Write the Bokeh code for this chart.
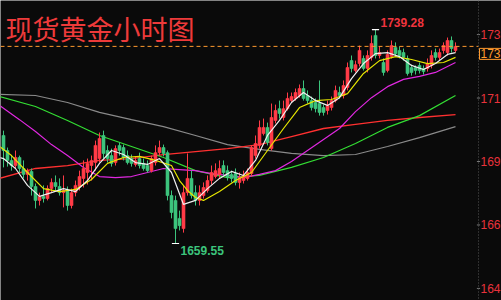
from bokeh.plotting import figure
from bokeh.models import Range1d, Span, Label
from bokeh.embed import file_html
from bokeh.resources import INLINE

# ---------------- data ----------------
title_text = "现货黄金小时图"

opens = [1699.8,1694.2,1690.5,1688.6,1691.6,1687.5,1685.3,1686.4,1680.8,1675.6,
1677.1,1676.3,1680.0,1682.3,1680.8,1678.5,1679.3,1673.7,1678.5,1680.8,
1683.8,1686.0,1688.6,1689.7,1691.2,1699.8,1694.2,1692.3,1689.7,1696.1,
1695.3,1692.3,1691.2,1689.0,1691.2,1689.4,1688.6,1686.7,1689.7,1693.4,
1695.3,1693.4,1677.4,1675.6,1668.9,1665.1,1678.5,1683.8,1678.5,1675.6,
1677.4,1679.3,1683.0,1684.5,1685.3,1688.6,1686.7,1685.3,1685.6,1682.3,
1683.0,1683.8,1685.6,1692.3,1696.1,1700.5,1702.8,1694.9,1705.4,1709.8,
1706.5,1709.8,1712.8,1713.6,1714.7,1717.3,1714.7,1712.8,1712.1,1711.7,
1710.2,1709.1,1710.2,1712.8,1715.8,1714.7,1717.7,1727.7,1724.0,1726.6,
1728.5,1724.8,1728.9,1737.1,1729.6,1727.0,1724.0,1729.2,1732.6,1731.5,
1730.7,1728.5,1725.1,1725.1,1725.9,1724.8,1724.8,1725.9,1730.7,1728.9,
1731.5,1730.7,1735.2,1731.5]

highs = [1701.6,1695.3,1692.3,1694.2,1692.3,1690.5,1687.5,1687.5,1681.9,1678.5,
1681.2,1681.2,1683.8,1684.9,1683.8,1684.9,1680.8,1680.0,1683.0,1686.7,
1690.5,1691.2,1692.3,1697.9,1700.9,1701.6,1696.1,1694.9,1696.1,1697.2,
1696.4,1694.2,1692.7,1692.0,1693.4,1691.2,1690.5,1692.3,1696.1,1697.9,
1696.4,1694.2,1679.3,1677.4,1671.8,1681.2,1693.1,1686.7,1681.2,1681.2,
1682.3,1684.9,1688.6,1689.4,1690.5,1690.5,1688.6,1686.7,1687.5,1686.0,
1686.7,1687.5,1696.1,1699.8,1705.4,1706.1,1704.6,1711.7,1711.3,1712.8,
1712.8,1715.8,1715.8,1717.3,1718.8,1720.3,1716.6,1714.3,1713.6,1720.3,
1711.3,1712.8,1714.3,1718.4,1718.0,1720.3,1727.0,1729.6,1727.7,1733.3,
1729.6,1731.5,1737.1,1739.28,1733.0,1728.5,1731.5,1735.2,1734.5,1733.0,
1732.2,1729.6,1726.2,1725.9,1727.0,1725.9,1728.5,1731.5,1732.2,1732.2,
1734.5,1736.3,1736.7,1734.5]

lows = [1687.9,1688.2,1686.7,1687.5,1686.0,1683.8,1683.0,1677.4,1672.6,1673.7,
1674.8,1675.6,1678.5,1679.3,1677.4,1673.0,1671.8,1672.6,1677.1,1679.3,
1680.4,1681.5,1683.0,1686.7,1689.7,1691.2,1689.7,1688.2,1688.6,1692.3,
1690.5,1689.0,1688.2,1688.2,1687.5,1686.7,1686.0,1686.0,1688.6,1692.3,
1692.0,1675.6,1668.9,1659.55,1664.4,1663.6,1677.4,1676.3,1673.7,1673.7,
1676.3,1678.5,1681.5,1683.8,1683.8,1684.9,1683.0,1682.3,1681.2,1680.0,
1681.9,1683.0,1684.5,1691.2,1694.9,1699.8,1696.1,1694.2,1704.3,1706.1,
1705.4,1709.1,1712.1,1712.8,1713.9,1712.8,1711.7,1709.1,1708.4,1707.2,
1707.2,1707.6,1709.1,1712.1,1713.6,1713.6,1716.6,1723.3,1723.3,1725.5,
1724.0,1723.3,1727.7,1728.5,1728.5,1722.1,1723.3,1728.5,1729.2,1728.5,
1727.7,1722.1,1722.1,1722.5,1722.9,1722.5,1723.6,1724.8,1727.7,1727.7,
1730.3,1729.6,1730.7,1730.7]

closes = [1694.2,1690.5,1688.6,1691.6,1687.5,1685.3,1686.4,1680.8,1675.6,1677.1,
1676.3,1680.0,1682.3,1680.8,1678.5,1679.3,1673.7,1678.5,1681.2,1684.5,
1687.5,1689.4,1690.5,1696.1,1698.7,1693.1,1691.2,1689.4,1694.9,1694.2,
1691.6,1689.7,1689.4,1690.5,1688.6,1687.5,1686.7,1691.2,1693.4,1695.3,
1693.1,1677.4,1671.1,1665.1,1666.2,1678.5,1683.8,1677.4,1675.6,1678.5,
1680.4,1683.0,1686.0,1686.7,1687.5,1686.0,1684.1,1683.8,1682.3,1684.1,
1684.9,1686.0,1695.3,1696.8,1702.8,1702.8,1697.2,1706.5,1709.1,1708.0,
1709.8,1713.6,1714.3,1715.8,1717.3,1713.6,1712.8,1710.2,1709.8,1708.4,
1708.4,1711.0,1712.8,1716.6,1714.7,1718.4,1725.1,1724.8,1726.2,1731.5,
1724.8,1729.6,1734.1,1729.6,1730.7,1723.3,1730.0,1733.3,1730.3,1729.6,
1728.9,1722.9,1723.3,1724.0,1724.0,1723.6,1726.6,1729.6,1728.9,1730.7,
1733.3,1735.2,1732.2,1733.0]

bars = list(range(len(closes)))

# moving-average lines, values read at selected bar positions
ma_gray_x = [-1, 8, 16, 24, 32, 40, 48, 56, 64, 72, 80, 88, 96, 104, 113]
ma_gray_y = [1715.1, 1714.7, 1712.1, 1708.4, 1705.7, 1703.1, 1699.8, 1696.4, 1694.6,
             1693.1, 1692.3, 1692.7, 1695.7, 1699.0, 1703.1]

ma_red_x = [-1, 8, 16, 24, 32, 40, 48, 56, 64, 72, 80, 88, 96, 104, 113]
ma_red_y = [1683.8, 1687.5, 1688.6, 1690.5, 1691.2, 1692.7, 1693.8, 1694.9, 1696.4,
            1699.4, 1702.4, 1703.9, 1705.4, 1706.5, 1707.6]

ma_green_x = [-1, 8, 16, 24, 32, 40, 48, 56, 64, 72, 80, 88, 96, 104, 113]
ma_green_y = [1714.3, 1710.6, 1705.4, 1699.8, 1695.7, 1691.6, 1686.7, 1684.1, 1684.9,
              1687.9, 1691.6, 1696.8, 1702.8, 1707.2, 1714.7]

ma_magenta_x = [-1, 4, 8, 12, 16, 20, 24, 28, 32, 36, 40, 44, 48, 52, 56, 60, 64, 68,
                72, 76, 80, 84, 88, 92, 96, 100, 104, 108, 113]
ma_magenta_y = [1711.0, 1705.7, 1701.3, 1696.4, 1692.3, 1687.9, 1684.5, 1684.1, 1684.5,
                1686.0, 1687.5, 1687.1, 1686.7, 1685.6, 1684.9, 1684.1, 1685.3, 1686.7,
                1690.1, 1694.2, 1698.3, 1702.4, 1708.7, 1713.9, 1718.0, 1720.7, 1721.8,
                1723.3, 1727.0]

ma_yellow_x = [-1, 2, 6, 10, 14, 18, 22, 26, 30, 34, 38, 42, 44, 46, 48, 50, 54, 58,
               62, 66, 70, 74, 78, 82, 86, 90, 94, 98, 102, 106, 110, 113]
ma_yellow_y = [1695.7, 1692.3, 1686.0, 1680.0, 1678.9, 1679.7, 1683.4, 1689.4, 1691.6,
               1692.0, 1690.5, 1688.6, 1683.0, 1679.3, 1676.7, 1675.6, 1678.9, 1683.0,
               1686.0, 1694.2, 1702.4, 1710.2, 1712.8, 1713.2, 1715.4, 1722.9, 1727.7,
               1729.2, 1728.1, 1726.6, 1727.0, 1728.9]

ma_white_x = [-1, 0, 3, 6, 9, 12, 15, 18, 21, 24, 27, 30, 33, 36, 39, 42, 45, 48, 51,
              54, 57, 60, 63, 66, 69, 72, 75, 78, 81, 84, 87, 90, 93, 96, 99, 102, 105,
              108, 111, 113]
ma_white_y = [1691.6, 1691.2, 1687.5, 1681.2, 1677.1, 1678.5, 1680.0, 1678.9, 1683.0,
              1689.4, 1694.2, 1692.7, 1689.7, 1689.0, 1691.2, 1686.0, 1674.1, 1675.6,
              1680.0, 1683.8, 1686.4, 1684.9, 1690.5, 1699.8, 1705.4, 1712.1, 1715.8,
              1712.8, 1711.0, 1713.9, 1721.0, 1726.6, 1730.3, 1730.7, 1729.2, 1725.9,
              1724.4, 1726.6, 1730.0, 1730.7]

high_bar, high_value, high_label = 93, 1739.28, "1739.28"
low_bar, low_value, low_label = 43, 1659.55, "1659.55"
last_price = closes[-1]

y_ticks = [1642.80, 1666.45, 1690.10, 1713.75, 1737.40]
y_tick_text = ["164", "166", "169", "171", "173"]
price_box_text = "173"

# ---------------- styling ----------------
BG = "#0a0a0a"
UP = "#ff3b47"
DOWN = "#3cc47c"
AXIS_TXT = "#e8323c"
SANS = "Liberation Sans"
X0, X1 = -0.75, 124.5          # plot area spans the whole 501 px
AXIS_X = 118.75                 # price scale sits at the right edge of the bars area

p = figure(width=501, height=300, output_backend="svg", toolbar_location=None,
           x_range=Range1d(X0, X1), y_range=Range1d(1638.3, 1750.1),
           background_fill_color=BG, border_fill_color=BG, outline_line_color=None,
           min_border_left=0, min_border_right=0, min_border_top=0, min_border_bottom=0,
           x_axis_location=None, y_axis_location=None)
p.grid.visible = False

# price scale (dotted line, ticks, labels)
p.add_layout(Span(location=AXIS_X, dimension="height", line_color="#555555",
                  line_dash="1 2", line_width=1))
p.segment(x0=[AXIS_X - 0.4] * len(y_ticks), y0=y_ticks,
          x1=[AXIS_X + 0.4] * len(y_ticks), y1=y_ticks,
          line_color="#777777", line_width=1)
for t, s in zip(y_ticks, y_tick_text):
    p.add_layout(Label(x=AXIS_X, y=t, x_offset=2, text=s, text_color=AXIS_TXT,
                       text_font=SANS, text_font_size="12px", text_baseline="middle"))

# moving averages
p.line(ma_gray_x, ma_gray_y, line_color="#8a8a8a", line_width=1.2)
p.line(ma_red_x, ma_red_y, line_color="#ff3030", line_width=1.3)
p.line(ma_green_x, ma_green_y, line_color="#33dd33", line_width=1.2)
p.line(ma_magenta_x, ma_magenta_y, line_color="#e028e0", line_width=1.2)

# candles
up_i = [i for i in bars if closes[i] >= opens[i]]
dn_i = [i for i in bars if closes[i] < opens[i]]
for idx, col in ((up_i, UP), (dn_i, DOWN)):
    p.segment(x0=idx, y0=[lows[i] for i in idx], x1=idx, y1=[highs[i] for i in idx],
              line_color=col, line_width=1)
    p.vbar(x=idx, width=0.75,
           top=[max(opens[i], closes[i]) for i in idx],
           bottom=[min(opens[i], closes[i]) for i in idx],
           fill_color=col, line_color=col, line_width=0.6)

p.line(ma_yellow_x, ma_yellow_y, line_color="#e6e600", line_width=1.2)
p.line(ma_white_x, ma_white_y, line_color="#f0f0f0", line_width=1.2)

# extreme markers
p.segment(x0=[high_bar - 0.9, low_bar - 0.9], y0=[high_value, low_value],
          x1=[high_bar + 0.9, low_bar + 0.9], y1=[high_value, low_value],
          line_color="white", line_width=1.2)

# last-price dashed line up to the price scale
p.segment(x0=[X0], y0=[last_price], x1=[AXIS_X], y1=[last_price],
          line_color="#ff9a2e", line_dash="4 3", line_width=1)

p.add_layout(Label(x=high_bar, y=high_value, x_offset=5, y_offset=3, text=high_label,
                   text_color="#f0343e", text_font=SANS, text_font_style="bold",
                   text_font_size="12px", text_baseline="bottom"))
p.add_layout(Label(x=low_bar, y=low_value, x_offset=5, y_offset=-3, text=low_label,
                   text_color="#3cc47c", text_font=SANS, text_font_style="bold",
                   text_font_size="12px", text_baseline="top"))

p.add_layout(Label(x=5, y=292, x_units="screen", y_units="screen", text=title_text,
                   text_color="#ee3a3a", text_font="Noto Sans CJK SC",
                   text_font_size="27px", text_baseline="top"))

p.add_layout(Label(x=AXIS_X, y=last_price, x_offset=1, y_offset=-2,
                   text=price_box_text, text_color="#ff9a2e", text_font=SANS,
                   text_font_size="12px", text_baseline="top",
                   border_line_color="#ff9a2e", border_line_width=1, padding=1))

open("out.html", "w").write(file_html(p, INLINE))
